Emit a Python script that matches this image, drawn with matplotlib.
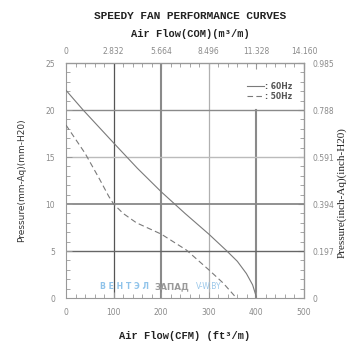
import numpy as np
import matplotlib
matplotlib.use("Agg")
import matplotlib.pyplot as plt

# data (CFM, mm-Aq)
cfm_60 = [0, 36, 100, 150, 200, 250, 300, 338, 360, 379, 392, 400]
mmaq_60 = [22.1, 20.0, 16.5, 13.8, 11.3, 9.0, 6.8, 5.0, 3.9, 2.6, 1.4, 0.1]
cfm_50 = [0, 20, 40, 71, 90, 100, 120, 148, 200, 253, 300, 330, 358]
mmaq_50 = [18.4, 16.9, 15.4, 12.6, 10.8, 10.0, 9.0, 8.0, 6.8, 5.1, 3.0, 1.6, 0.0]

x_ticks = [0, 100, 200, 300, 400, 500]
y_ticks = [0, 5, 10, 15, 20, 25]
top_ticks = [0, 2.832, 5.664, 8.496, 11.328, 14.160]
top_labels = ["0", "2.832", "5.664", "8.496", "11.328", "14.160"]
right_ticks = [0, 0.197, 0.394, 0.591, 0.788, 0.985]
right_labels = ["0", "0.197", "0.394", "0.591", "0.788", "0.985"]

CMM = 0.02832   # m3/min per CFM
INCH = 0.0394   # inch-Aq per mm-Aq

fig = plt.figure(figsize=(3.62, 3.47), dpi=100)
ax = fig.add_axes([0.1823, 0.1412, 0.6575, 0.6772])
ax.set_xlim(0, 500)
ax.set_ylim(0, 25)

tick_col = "#8a8a8a"
for s in ax.spines.values():
    s.set_color("#999999")
    s.set_linewidth(0.8)

# grid lines, drawn one by one as in the picture
ax.axvline(100, color="#555555", lw=0.9, zorder=1)
ax.axvline(200, color="#8a8a8a", lw=1.5, zorder=1)
ax.axvline(300, color="#b0b0b0", lw=0.9, zorder=1)
ax.axvline(400, ymax=20 / 25, color="#8a8a8a", lw=1.5, zorder=1)
ax.axhline(20, color="#8a8a8a", lw=1.0, zorder=1)
ax.axhline(15, color="#bbbbbb", lw=1.0, zorder=1)
ax.axhline(10, color="#888888", lw=1.3, zorder=1)
ax.axhline(5, color="#666666", lw=1.0, zorder=1)

ax.plot(cfm_60, mmaq_60, color="#7a7a7a", lw=0.8, zorder=3, label=": 60Hz")
ax.plot(cfm_50, mmaq_50, color="#7a7a7a", lw=0.8, ls=(0, (5, 3)), zorder=3, label=": 50Hz")

ax.set_xticks(x_ticks)
ax.set_xticks(np.arange(0, 501, 20), minor=True)
ax.set_yticks(y_ticks)
ax.set_yticks(np.arange(0, 26, 1), minor=True)
ax.tick_params(which="both", direction="in", colors="#999999", labelcolor=tick_col,
               labelsize=5.5)
ax.tick_params(which="major", length=4, width=0.7)
ax.tick_params(which="minor", length=3, width=0.6)
ax.tick_params(axis="x", pad=7)
ax.tick_params(axis="y", pad=8)

top = ax.secondary_xaxis("top", functions=(lambda v: v * CMM, lambda v: v / CMM))
top.set_xticks(top_ticks)
top.set_xticklabels(top_labels)
top.xaxis.set_minor_locator(matplotlib.ticker.FixedLocator(np.arange(0, 14.2, 2.832 / 5)))
top.tick_params(which="both", direction="in", colors="#999999", labelcolor=tick_col,
                labelsize=5.5, pad=5)
top.tick_params(which="major", length=4)
top.tick_params(which="minor", length=3)

right = ax.secondary_yaxis("right", functions=(lambda v: v * INCH, lambda v: v / INCH))
right.set_yticks(right_ticks)
right.set_yticklabels(right_labels)
right.yaxis.set_minor_locator(matplotlib.ticker.FixedLocator(np.arange(0, 0.99, 0.0394)))
right.tick_params(which="both", direction="in", colors="#999999", labelcolor=tick_col,
                  labelsize=5.5, pad=6)
right.tick_params(which="major", length=4)
right.tick_params(which="minor", length=3)

leg = ax.legend(loc="upper right", bbox_to_anchor=(0.98, 0.95), frameon=False,
                fontsize=5.5, handlelength=2.2, handletextpad=0.2, labelspacing=0.2,
                prop={"weight": "bold", "size": 5.5})
for t in leg.get_texts():
    t.set_color("#555555")

# watermark
ax.text(0.143, 0.03, "В Е Н Т Э Л", transform=ax.transAxes, color="#8fc3ea",
        fontsize=5.6, fontweight="bold", ha="left", va="bottom")
ax.text(0.37, 0.03, "ЗАПАД", transform=ax.transAxes, color="#9a9a9a",
        fontsize=6.3, fontweight="bold", ha="left", va="bottom")
ax.text(0.546, 0.03, "V-W.BY", transform=ax.transAxes, color="#9cc8ea",
        fontsize=5.5, ha="left", va="bottom")

mono = "Liberation Mono"
fig.text(0.525, 0.955, "SPEEDY FAN PERFORMANCE CURVES", family=mono,
         fontweight="bold", fontsize=8, ha="center", va="center", color="#222222")
fig.text(0.525, 0.903, "Air Flow(COM)(m³/m)", family=mono, fontweight="bold",
         fontsize=7.5, ha="center", va="center", color="#222222")
fig.text(0.51, 0.033, "Air Flow(CFM) (ft³/m)", family=mono, fontweight="bold",
         fontsize=7.5, ha="center", va="center", color="#222222")
fig.text(0.06, 0.48, "Pressure(mm-Aq)(mm-H20)", rotation=90, fontsize=6.5,
         ha="center", va="center", color="#333333")
fig.text(0.945, 0.445, "Pressure(inch-Aq)(inch-H20)", rotation=90,
         family="Liberation Serif", fontsize=8, ha="center", va="center",
         color="#222222")

fig.savefig("out.png", dpi=100)
